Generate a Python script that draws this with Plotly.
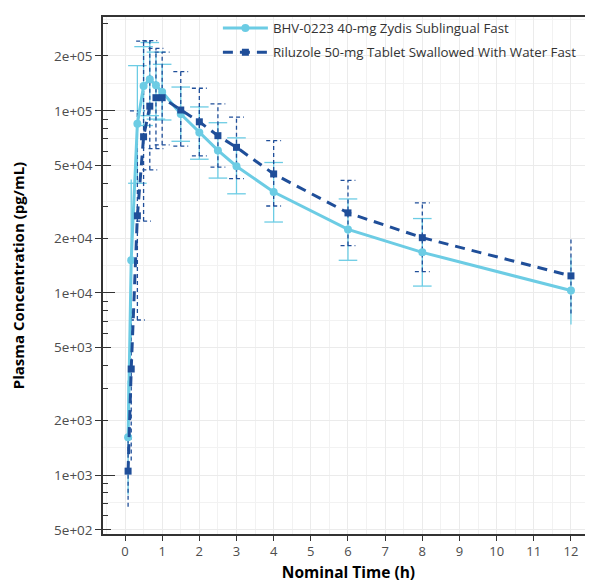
import plotly.graph_objects as go

# ---------------- data ----------------
time_h = [0.083, 0.167, 0.333, 0.5, 0.667, 0.833, 1.0, 1.5, 2.0, 2.5, 3.0, 4.0, 6.0, 8.0, 12.0]

bhv_name = "BHV-0223 40-mg Zydis Sublingual Fast"
bhv_mean = [1610, 15100, 85000, 137000, 149000, 138000, 127000, 96000, 76000, 60600, 49600, 35800, 22300, 16700, 10300]
bhv_upper = [3300, 42000, 177000, 225000, 237000, 210000, 180000, 135000, 105000, 86000, 71000, 52000, 32800, 25600, 15700]
bhv_lower = [780, 5500, 40000, 83000, 94000, 90000, 89000, 68000, 54200, 42700, 35000, 24500, 15100, 10900, 6700]

ril_name = "Riluzole 50-mg Tablet Swallowed With Water Fast"
ril_mean = [1050, 3820, 26500, 72000, 106000, 118000, 118000, 101000, 87000, 73000, 63000, 45000, 27500, 20100, 12400]
ril_upper = [1640, 12000, 100000, 241000, 243000, 220000, 210000, 164000, 133000, 109000, 92400, 68500, 41500, 31200, 19900]
ril_lower = [670, 1200, 7100, 24800, 47400, 62000, 65000, 64000, 56500, 49000, 42400, 30000, 18200, 13100, 7700]

x_ticks = list(range(0, 13))
y_breaks = [5e2, 1e3, 2e3, 5e3, 1e4, 2e4, 5e4, 1e5, 2e5]
y_labels = ["5e+02", "1e+03", "2e+03", "5e+03", "1e+04", "2e+04", "5e+04", "1e+05", "2e+05"]

# ---------------- styling ----------------
CYAN = "#6CCCE4"
NAVY = "#1F4E99"
FONT = "Open Sans"
AXIS = "#333333"
GRID = "#EBEBEB"

# geometric midpoints between breaks (minor grid, ggplot style)
y_minor_grid = []
ext = [y_breaks[0] / 2.5] + y_breaks + [5e5]
for a, b in zip(ext[:-1], ext[1:]):
    y_minor_grid.append((a * b) ** 0.5)

decades = [1e2, 1e3, 1e4, 1e5, 1e6]
logticks_short = [m * d for d in decades for m in (2, 3, 4, 6, 7, 8, 9)]
logticks_mid = [5 * d for d in decades]

t_max = max(x_ticks)


def errbar_xy(t, lo, hi, w):
    xs, ys = [], []
    for ti, l, h in zip(t, lo, hi):
        xs += [ti, ti, None]
        ys += [l, h, None]
        if ti - w >= 0 and ti + w <= t_max:
            xs += [ti - w, ti + w, None, ti - w, ti + w, None]
            ys += [l, l, None, h, h, None]
    return xs, ys


fig = go.Figure()

ex, ey = errbar_xy(time_h, bhv_lower, bhv_upper, 0.25)
fig.add_trace(go.Scatter(x=ex, y=ey, mode="lines", line=dict(color=CYAN, width=1.3),
                         showlegend=False, hoverinfo="skip"))
ex, ey = errbar_xy(time_h, ril_lower, ril_upper, 0.2)
fig.add_trace(go.Scatter(x=ex, y=ey, mode="lines", line=dict(color=NAVY, width=1.3, dash="4px,3px"),
                         showlegend=False, hoverinfo="skip"))

fig.add_trace(go.Scatter(x=time_h, y=bhv_mean, mode="lines+markers", name=bhv_name,
                         legendgroup="a",
                         line=dict(color=CYAN, width=3),
                         marker=dict(symbol="circle", size=8, color=CYAN)))
fig.add_trace(go.Scatter(x=time_h, y=ril_mean, mode="lines+markers", name=ril_name,
                         legendgroup="b",
                         line=dict(color=NAVY, width=3, dash="10px,7px"),
                         marker=dict(symbol="square", size=7, color=NAVY)))

# invisible carriers for the log-tick overlay axes
for ya in ("y2", "y3"):
    fig.add_trace(go.Scatter(x=time_h, y=ril_mean, yaxis=ya, mode="markers",
                             marker=dict(opacity=0), showlegend=False, hoverinfo="skip"))

y_range = [2.676, 5.515]

# note: the page body adds an 8px offset, margins compensate for it
fig.update_layout(
    width=593, height=584,
    margin=dict(l=95, r=7, t=5, b=58),
    paper_bgcolor="white", plot_bgcolor="white",
    font=dict(family=FONT, color="#4D4D4D"),
    showlegend=True,
    legend=dict(x=0.234, y=1.008, xanchor="left", yanchor="top",
                bgcolor="rgba(0,0,0,0)", font=dict(size=13.3, color="#333333", family=FONT),
                itemwidth=45, tracegroupgap=4),
    xaxis=dict(range=[-0.592, 12.62], tickvals=x_ticks, ticks="outside", ticklen=5,
               tickwidth=1.2, tickcolor=AXIS, showline=True, linecolor=AXIS, linewidth=1.5,
               mirror=True, showgrid=True, gridcolor=GRID, gridwidth=1, zeroline=False,
               automargin=False,
               minor=dict(dtick=0.5, showgrid=True, gridcolor="#F2F2F2", gridwidth=1, ticks=""),
               tickfont=dict(size=13, color="#4D4D4D"),
               title=dict(text="<b>Nominal Time (h)</b>", font=dict(size=15.5, color="black"), standoff=8)),
    yaxis=dict(type="log", range=y_range, tickvals=y_breaks, ticktext=y_labels,
               ticks="outside", ticklen=6, tickwidth=1.2, tickcolor=AXIS,
               showline=True, linecolor=AXIS, linewidth=1.5, showgrid=True, gridcolor=GRID,
               gridwidth=1, zeroline=False, automargin=False,
               minor=dict(tickvals=y_minor_grid, showgrid=True, gridcolor="#F2F2F2", gridwidth=1, ticks=""),
               tickfont=dict(size=13.5, color="#4D4D4D"),
               title=dict(text="<b>Plasma Concentration (pg/mL)</b>", font=dict(size=15, color="black"),
                          standoff=27)),
    yaxis2=dict(type="log", range=y_range, overlaying="y", anchor="x", side="left",
                tickvals=decades, ticks="inside", ticklen=12, tickwidth=1.2, tickcolor=AXIS,
                showticklabels=False, showgrid=False, showline=False, zeroline=False, automargin=False,
                minor=dict(tickvals=logticks_short, ticks="inside", ticklen=5, tickwidth=1.1,
                           tickcolor=AXIS, showgrid=False)),
    yaxis3=dict(type="log", range=y_range, overlaying="y", anchor="x", side="left",
                tickvals=logticks_mid, ticks="inside", ticklen=8, tickwidth=1.2, tickcolor=AXIS,
                showticklabels=False, showgrid=False, showline=False, zeroline=False, automargin=False),
)

fig.write_html("out.html")
